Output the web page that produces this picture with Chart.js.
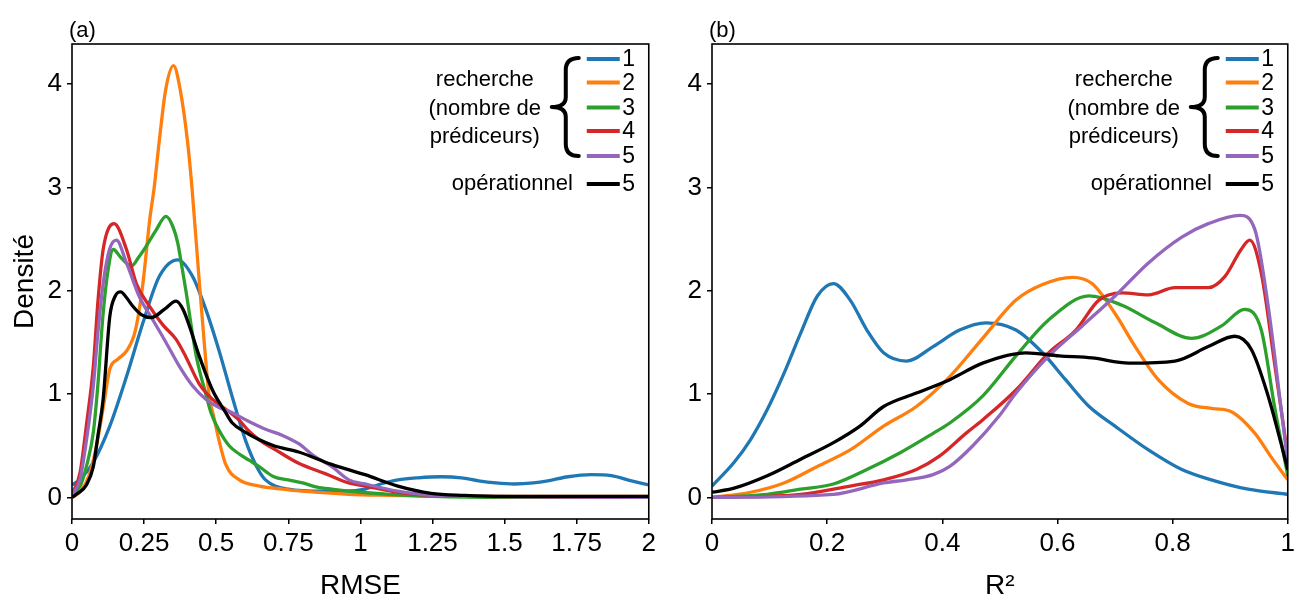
<!DOCTYPE html>
<html><head><meta charset="utf-8">
<script src="https://cdn.jsdelivr.net/npm/chart.js@4.4.1/dist/chart.umd.min.js"></script>
<style>
html,body{margin:0;padding:0;background:#fff;}
#wrap{position:relative;width:1299px;height:603px;overflow:hidden;background:#fff}
.pane{position:absolute;top:0;height:603px}
</style></head><body>
<div id="wrap">
<div class="pane" style="left:0;width:660px"><canvas id="cA"></canvas></div>
<div class="pane" style="left:660px;width:639px"><canvas id="cB"></canvas></div>
</div>
<script>
// ---------- labels / ticks ----------
const seriesNames = ['1','2','3','4','5','5'];
const legendGroupLines = ['recherche','(nombre de','prédiceurs)'];
const legendOpLabel = 'opérationnel';
const yTicks = [0,1,2,3,4];
const yTickLabels = ['0','1','2','3','4'];
const rmseTicks = [0,0.25,0.5,0.75,1,1.25,1.5,1.75,2];
const rmseTickLabels = ['0','0.25','0.5','0.75','1','1.25','1.5','1.75','2'];
const r2Ticks = [0,0.2,0.4,0.6,0.8,1];
const r2TickLabels = ['0','0.2','0.4','0.6','0.8','1'];

// ---------- panel (a): RMSE densities ----------
const rmse1X = [0,0.03,0.074,0.131,0.189,0.246,0.303,0.367,0.418,0.464,0.51,0.556,0.602,0.64,0.671,0.75,0.87,0.95,1.016,1.07,1.13,1.2,1.28,1.35,1.41,1.47,1.533,1.6,1.65,1.72,1.8,1.87,1.94,2.0];
const rmse1Y = [0.12,0.18,0.34,0.69,1.17,1.69,2.14,2.30,2.14,1.82,1.42,0.97,0.55,0.30,0.17,0.08,0.06,0.06,0.08,0.13,0.17,0.19,0.20,0.19,0.16,0.14,0.13,0.14,0.16,0.20,0.22,0.21,0.16,0.12];
const rmse2X = [0,0.03,0.06,0.085,0.11,0.131,0.16,0.19,0.22,0.245,0.27,0.285,0.303,0.325,0.352,0.375,0.40,0.416,0.441,0.46,0.476,0.49,0.51,0.533,0.58,0.65,0.73,0.8,0.96,1.1,1.3,1.6,2.0];
const rmse2Y = [0.0,0.06,0.22,0.5,0.9,1.24,1.34,1.42,1.62,2.05,2.7,3.0,3.46,3.95,4.18,3.95,3.46,3.0,2.1,1.45,0.97,0.8,0.55,0.32,0.17,0.11,0.08,0.06,0.03,0.02,0.01,0.01,0.01];
const rmse3X = [0,0.03,0.05,0.074,0.09,0.107,0.125,0.143,0.17,0.206,0.23,0.257,0.29,0.326,0.35,0.367,0.38,0.395,0.43,0.464,0.482,0.51,0.545,0.58,0.614,0.648,0.7,0.75,0.8,0.85,0.9,1.0,1.1,1.25,1.5,2.0];
const rmse3Y = [0.03,0.12,0.3,0.63,1.1,1.75,2.2,2.40,2.32,2.24,2.32,2.43,2.58,2.72,2.62,2.46,2.25,2.0,1.38,1.0,0.82,0.65,0.50,0.42,0.36,0.30,0.2,0.17,0.14,0.1,0.08,0.05,0.03,0.01,0.0,0.0];
const rmse4X = [0,0.028,0.05,0.074,0.09,0.108,0.146,0.189,0.223,0.269,0.315,0.361,0.395,0.441,0.487,0.53,0.579,0.614,0.648,0.706,0.786,0.878,0.959,1.016,1.13,1.245,1.4,2.0];
const rmse4Y = [0.03,0.24,0.7,1.27,1.9,2.40,2.65,2.40,2.07,1.85,1.67,1.53,1.36,1.1,0.95,0.86,0.75,0.64,0.56,0.46,0.33,0.23,0.14,0.11,0.05,0.02,0.01,0.0];
const rmse5X = [0,0.028,0.05,0.074,0.09,0.108,0.13,0.154,0.189,0.234,0.28,0.326,0.372,0.418,0.464,0.51,0.556,0.61,0.671,0.73,0.786,0.84,0.9,0.96,1.016,1.13,1.245,1.4,2.0];
const rmse5Y = [0.02,0.18,0.55,1.08,1.6,2.07,2.4,2.49,2.27,1.94,1.72,1.5,1.27,1.08,0.95,0.87,0.82,0.74,0.66,0.6,0.52,0.4,0.30,0.17,0.13,0.06,0.02,0.01,0.0];
const rmseOpX = [0,0.02,0.05,0.074,0.09,0.108,0.131,0.15,0.169,0.19,0.211,0.24,0.275,0.32,0.361,0.385,0.407,0.441,0.487,0.533,0.556,0.602,0.648,0.7,0.786,0.9,1.016,1.13,1.245,1.36,1.5,2.0];
const rmseOpY = [0.0,0.04,0.12,0.30,0.6,0.95,1.75,1.95,1.99,1.93,1.85,1.77,1.74,1.82,1.90,1.82,1.66,1.37,1.04,0.82,0.72,0.63,0.56,0.50,0.44,0.32,0.22,0.11,0.04,0.02,0.01,0.01];

// ---------- panel (b): R² densities ----------
const r21X = [0,0.0385,0.067,0.096,0.125,0.154,0.183,0.211,0.24,0.269,0.298,0.338,0.384,0.43,0.476,0.528,0.574,0.614,0.655,0.70,0.758,0.816,0.873,0.931,1.0];
const r21Y = [0.11,0.34,0.56,0.85,1.20,1.59,1.95,2.07,1.91,1.62,1.40,1.32,1.46,1.62,1.69,1.62,1.40,1.14,0.88,0.69,0.46,0.27,0.16,0.08,0.03];
const r22X = [0,0.067,0.125,0.183,0.24,0.298,0.355,0.413,0.47,0.528,0.574,0.626,0.66,0.70,0.735,0.775,0.827,0.87,0.902,0.943,0.97,1.0];
const r22Y = [0.0,0.05,0.14,0.30,0.46,0.69,0.88,1.17,1.54,1.91,2.06,2.13,2.07,1.78,1.46,1.14,0.91,0.86,0.83,0.62,0.4,0.17];
const r23X = [0,0.096,0.154,0.211,0.269,0.326,0.384,0.413,0.47,0.528,0.585,0.655,0.712,0.77,0.833,0.885,0.925,0.954,0.977,1.0];
const r23Y = [0.0,0.03,0.08,0.13,0.27,0.43,0.62,0.72,0.98,1.37,1.72,1.95,1.86,1.69,1.54,1.66,1.82,1.62,0.88,0.21];
const r24X = [0,0.154,0.24,0.298,0.355,0.395,0.441,0.47,0.528,0.585,0.632,0.672,0.712,0.758,0.804,0.862,0.891,0.919,0.934,0.954,0.977,1.0];
const r24Y = [0.0,0.03,0.11,0.17,0.27,0.40,0.62,0.75,1.04,1.40,1.62,1.91,1.98,1.96,2.03,2.03,2.14,2.40,2.49,2.17,1.30,0.40];
const r25X = [0,0.211,0.298,0.338,0.384,0.413,0.453,0.499,0.528,0.585,0.643,0.70,0.758,0.816,0.862,0.917,0.943,0.966,0.988,1.0];
const r25Y = [0.0,0.03,0.14,0.17,0.22,0.30,0.50,0.79,1.01,1.37,1.66,1.95,2.27,2.52,2.65,2.73,2.59,1.85,0.88,0.34];
const r2OpX = [0,0.0385,0.096,0.154,0.211,0.257,0.298,0.355,0.413,0.47,0.545,0.603,0.66,0.724,0.804,0.862,0.908,0.937,0.966,0.988,1.0];
const r2OpY = [0.05,0.09,0.21,0.37,0.53,0.69,0.88,1.01,1.14,1.30,1.40,1.37,1.35,1.30,1.32,1.46,1.56,1.43,0.98,0.53,0.27];

// ---------- styling ----------
const FONT = "'Liberation Sans', Arial, Helvetica, sans-serif";
const colors = ['#1f77b4','#ff7f0e','#2ca02c','#d62728','#9467bd','#000000'];
Chart.defaults.font.family = FONT;
Chart.defaults.color = '#000';

function pairs(xs, ys){ return xs.map((x,i)=>({x:x, y:ys[i]})); }
function makeDatasets(xsList, ysList){
  return xsList.map((xs,i)=>({
    label: seriesNames[i],
    data: pairs(xs, ysList[i]),
    borderColor: colors[i], backgroundColor: colors[i],
    borderWidth: 3.3, pointRadius: 0, pointHoverRadius: 0,
    cubicInterpolationMode: 'monotone', fill: false,
    order: 6 - i
  }));
}

function decoPlugin(panelLabel){
  return { id: 'deco', afterDraw(chart){
    const ctx = chart.ctx, a = chart.chartArea;
    const R = a.right, T = a.top;
    ctx.save();
    ctx.strokeStyle = '#000'; ctx.lineWidth = 1.6;
    ctx.strokeRect(a.left, a.top, a.right - a.left, a.bottom - a.top);
    ctx.fillStyle = '#000';
    ctx.font = '22px ' + FONT; ctx.textAlign = 'left'; ctx.textBaseline = 'alphabetic';
    ctx.fillText(panelLabel, a.left - 3, T - 7);
    // legend rows
    const rows = [15, 38.5, 63.5, 87, 112, 140];
    rows.forEach((dy, i) => {
      ctx.strokeStyle = colors[i]; ctx.lineWidth = 3.8; ctx.lineCap = 'butt';
      ctx.beginPath(); ctx.moveTo(R - 62, T + dy); ctx.lineTo(R - 29, T + dy); ctx.stroke();
      ctx.fillStyle = '#000'; ctx.textAlign = 'center'; ctx.textBaseline = 'middle';
      ctx.font = '23px ' + FONT;
      ctx.fillText(seriesNames[i], R - 20, T + dy + 1);
    });
    // group text
    ctx.font = '22px ' + FONT;
    ctx.textAlign = 'center';
    const gy = [36, 64.5, 93];
    legendGroupLines.forEach((t, i) => ctx.fillText(t, R - 164, T + gy[i]));
    ctx.textAlign = 'right';
    ctx.fillText(legendOpLabel, R - 76, T + 140);
    // brace
    const xe = R - 70, xm = R - 83, xt = R - 97, y0 = T + 14, y1 = T + 112, ym = (y0 + y1) / 2;
    ctx.strokeStyle = '#000'; ctx.lineWidth = 4; ctx.lineCap = 'round'; ctx.lineJoin = 'round';
    ctx.beginPath();
    ctx.moveTo(xe, y0);
    ctx.quadraticCurveTo(xm, y0, xm, y0 + 12);
    ctx.lineTo(xm, ym - 10);
    ctx.quadraticCurveTo(xm, ym, xt, ym);
    ctx.quadraticCurveTo(xm, ym, xm, ym + 10);
    ctx.lineTo(xm, y1 - 12);
    ctx.quadraticCurveTo(xm, y1, xe, y1);
    ctx.stroke();
    ctx.restore();
  }};
}

function makeScales(xMin, xMax, xT, xL, xTitle, yTitle, yWidth){
  return {
    x: {
      type: 'linear', min: xMin, max: xMax,
      afterBuildTicks: s => { s.ticks = xT.map(v => ({value: v})); },
      afterFit: s => { s.height = 84; },
      ticks: { callback: (v, i) => xL[i], font: {size: 26}, color: '#000', padding: 4, maxRotation: 0, autoSkip: false },
      grid: { display: true, drawOnChartArea: false, drawTicks: true, tickLength: 5, color: '#000', lineWidth: 1.5 },
      border: { display: false },
      title: { display: true, text: xTitle, font: {size: 28}, color: '#000', padding: {top: 0, bottom: 0} }
    },
    y: {
      type: 'linear', min: -0.209, max: 4.389,
      afterBuildTicks: s => { s.ticks = yTicks.map(v => ({value: v})); },
      afterFit: s => { s.width = yWidth; },
      ticks: { callback: (v, i) => yTickLabels[i], font: {size: 26}, color: '#000', padding: 5, autoSkip: false },
      grid: { display: true, drawOnChartArea: false, drawTicks: true, tickLength: 5, color: '#000', lineWidth: 1.5 },
      border: { display: false },
      title: { display: !!yTitle, text: yTitle || '', font: {size: 28}, color: '#000', padding: {top: 8, bottom: 0} }
    }
  };
}

function makeChart(id, dsX, dsY, xMin, xMax, xT, xL, xTitle, yTitle, yWidth, padRight, label){
  return new Chart(document.getElementById(id), {
    type: 'line',
    data: { datasets: makeDatasets(dsX, dsY) },
    options: {
      responsive: true, maintainAspectRatio: false, animation: false,
      layout: { padding: { left: 0, right: padRight, top: 44, bottom: 0 } },
      plugins: { legend: { display: false }, tooltip: { enabled: false }, title: { display: false } },
      scales: makeScales(xMin, xMax, xT, xL, xTitle, yTitle, yWidth)
    },
    plugins: [decoPlugin(label)]
  });
}

makeChart('cA',
  [rmse1X, rmse2X, rmse3X, rmse4X, rmse5X, rmseOpX],
  [rmse1Y, rmse2Y, rmse3Y, rmse4Y, rmse5Y, rmseOpY],
  0, 2, rmseTicks, rmseTickLabels, 'RMSE', 'Densité', 72, 8, '(a)');
makeChart('cB',
  [r21X, r22X, r23X, r24X, r25X, r2OpX],
  [r21Y, r22Y, r23Y, r24Y, r25Y, r2OpY],
  0, 1, r2Ticks, r2TickLabels, 'R²', '', 52, 7, '(b)');
</script>
</body></html>
